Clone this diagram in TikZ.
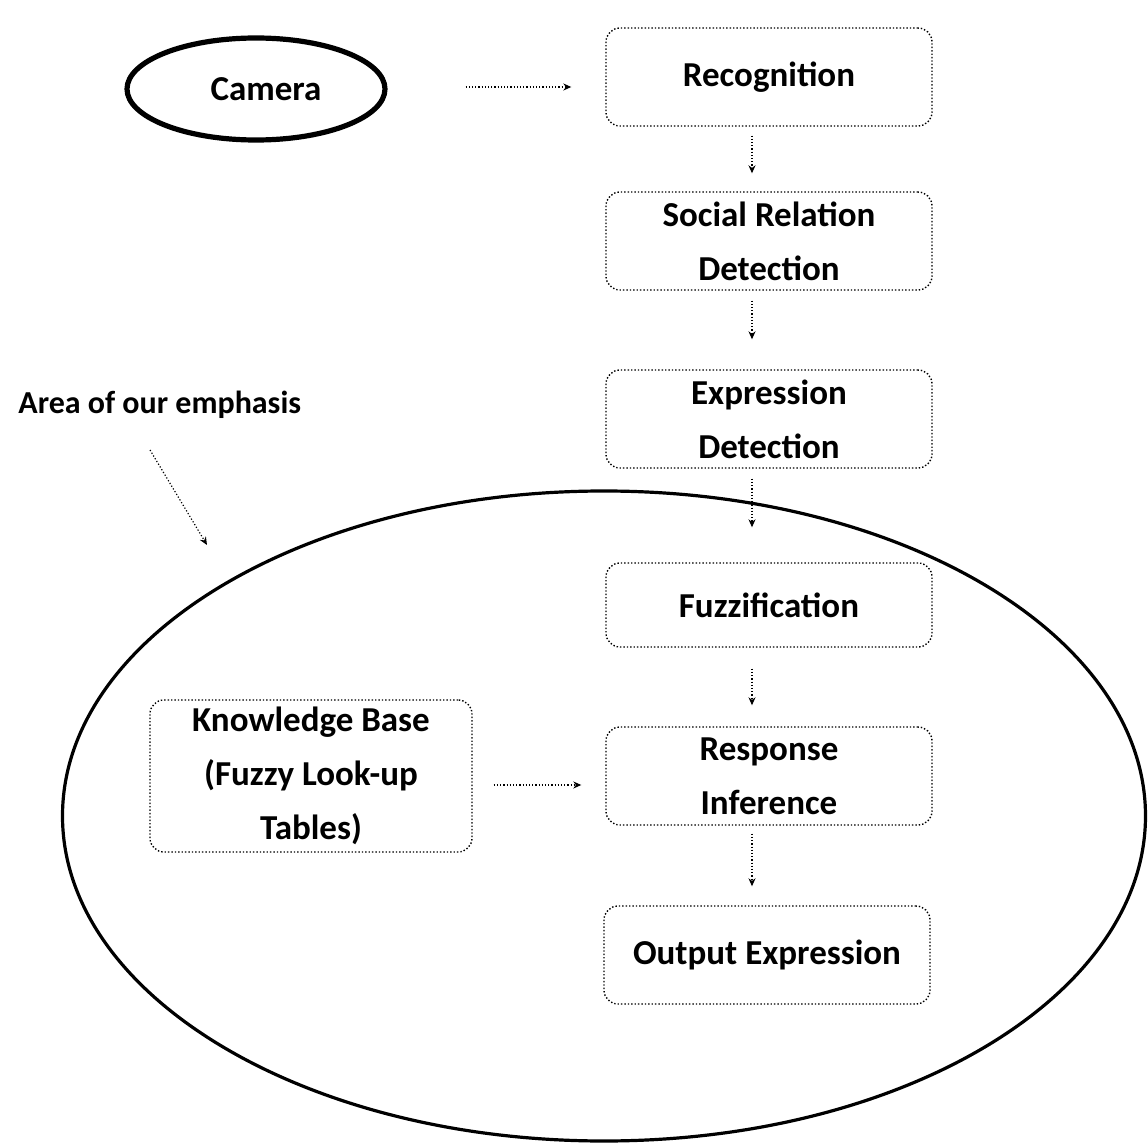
\documentclass[tikz,border=0pt]{standalone}
\usepackage{fontspec}
\setmainfont{Carlito}
\usetikzlibrary{arrows.meta,shapes.geometric,calc}
\begin{document}
\begin{tikzpicture}[x=0.5pt,y=-0.5pt,
  stagebox/.style={draw, densely dotted, line width=0.7pt, rounded corners=7pt,
    minimum width=163pt, minimum height=49pt, align=center, inner sep=0pt,
    font=\fontsize{17.5}{27}\selectfont\bfseries},
  flow/.style={densely dotted, line width=0.6pt, -{Stealth[length=4pt,width=3.5pt]}}]
\useasboundingbox (0,0) rectangle (1148,1145);
% big region ellipse
\node[draw, ellipse, line width=1.6pt, minimum width=541.5pt, minimum height=325pt, inner sep=0pt] (region) at (604,816) {};
\node[draw, ellipse, line width=2.6pt, minimum width=129pt, minimum height=51pt, inner sep=0pt,
  font=\fontsize{17.5}{27}\selectfont\bfseries] (camera) at (256,89) {\hspace{10pt}Camera};
\node[stagebox] (rec) at (769,77) {Recognition};
\node[stagebox] (soc) at (769,241) {Social Relation\\Detection};
\node[stagebox] (expr) at (769,419) {Expression\\Detection};
\node[stagebox, minimum height=42pt] (fuzz) at (769,605) {Fuzzification};
\node[stagebox] (resp) at (769,776) {Response\\Inference};
\node[stagebox] (out) at (767,955) {Output Expression};
\node[stagebox, minimum width=161pt, minimum height=76pt] (kb) at (311,776) {Knowledge Base\\(Fuzzy Look-up\\Tables)};
\node[font=\fontsize{16}{20}\selectfont\bfseries, anchor=west, inner sep=0pt] (area) at (18,405) {Area of our emphasis};
\coordinate (areaS) at (150,450);
\coordinate (areaE) at (207,545);
% connectors
\draw[flow] ($(camera.east)+(78,-2)$) -- ($(rec.west)+(-34,10)$);
\draw[flow] ($(rec.south)+(-17,9)$) -- ($(soc.north)+(-17,-18)$);
\draw[flow] ($(soc.south)+(-17,10)$) -- ($(expr.north)+(-17,-30)$);
\draw[flow] ($(expr.south)+(-17,10)$) -- ($(fuzz.north)+(-17,-35)$);
\draw[flow] ($(fuzz.south)+(-17,21)$) -- ($(resp.north)+(-17,-21)$);
\draw[flow] ($(resp.south)+(-17,8)$) -- ($(out.north)+(-15,-19)$);
\draw[flow] ($(kb.east)+(21,9)$) -- ($(resp.west)+(-24,9)$);
\draw[flow] (areaS) -- (areaE);
\end{tikzpicture}
\end{document}
